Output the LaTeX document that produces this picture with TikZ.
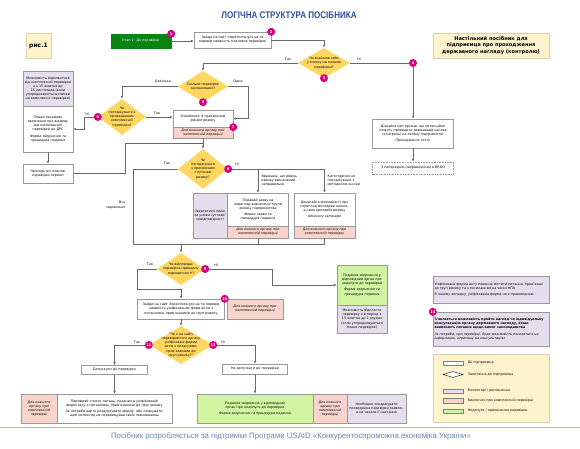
\documentclass[tikz,border=0pt]{standalone}
\usepackage{fontspec}
\setmainfont{DejaVu Sans}
\newfontfamily\narrowfont{Liberation Sans}[FakeStretch=0.84]
\newfontfamily\footfont{Liberation Sans}
\usepackage{tikz}
\usetikzlibrary{positioning,shapes.geometric,arrows.meta}

\definecolor{qyellow}{RGB}{255,214,96}
\definecolor{notepurple}{RGB}{229,223,237}
\definecolor{cplxpink}{RGB}{248,212,204}
\definecolor{stopgreen}{RGB}{208,244,160}
\definecolor{paleyellow}{RGB}{255,243,205}
\definecolor{stagegreen}{RGB}{10,130,20}
\definecolor{nummag}{RGB}{214,0,124}
\definecolor{titleblue}{RGB}{42,82,152}
\definecolor{footblue}{RGB}{104,134,178}
\definecolor{linegray}{RGB}{105,105,105}
\newcommand{\tx}{\fontsize{3.3}{4.1}\selectfont}

\begin{document}
\begin{tikzpicture}[x=1pt,y=-1pt,>={Latex[length=3pt,width=2.6pt]},
	box/.style n args={2}{draw=gray!80,minimum width=#1pt,minimum height=#2pt,
		text width=#1pt-3pt,inner xsep=1.5pt,inner ysep=0.5pt,align=center,font=\tx},
	act/.style={fill=white},
	note/.style={fill=notepurple},
	cplx/.style={fill=cplxpink,font=\tx\itshape},
	stop/.style={fill=stopgreen},
	quest/.style n args={2}{diamond,fill=qyellow,minimum width=#1pt,minimum height=#2pt,inner sep=0pt},
	qtext/.style={font=\tx,align=center,inner sep=0pt},
	num/.style={circle,fill=nummag,text=white,inner sep=0pt,minimum size=8pt,font=\fontsize{3.6}{4}\selectfont\bfseries},
	lbl/.style={font=\tx,inner sep=0.5pt},
	link/.style={draw=linegray,line width=0.6pt}]
	
	\path[use as bounding box,fill=white] (0,0) rectangle (580,449);
	
	% headers
	\node[font=\narrowfont\fontsize{9.6}{11}\selectfont\bfseries,text=titleblue] (title) at (289,15) {ЛОГІЧНА СТРУКТУРА ПОСІБНИКА};
	\node[box={25}{25},fill=paleyellow,draw=paleyellow!85!black,font=\fontsize{6}{7}\selectfont\bfseries] (fig) at (38.5,45.5) {рис.1};
	\node[box={116}{25},fill=paleyellow,draw=paleyellow!85!black,font=\fontsize{5.1}{6.3}\selectfont\bfseries] (head) at (491,45.5) {Настільний посібник для\\підприємця про проходження\\державного нагляду (контролю)};
	
	% top part
	\node[box={60}{14},fill=stagegreen,draw=stagegreen,text=white] (st1) at (141,41) {Етап 1: До перевірки};
	\node[box={77}{16},act] (b2) at (232.5,40) {Зайди на сайт inspections.gov.ua та\\перевір наявність планових перевірок};
	\node[quest={52}{30},label={[qtext]center:{Чи знайшов себе\\у списку на планові\\перевірки?}}] (q3) at (324,63) {};
	\node[num] (c4) at (413,63) {4};
	\node[box={81}{29},act] (b4) at (413,133.5) {Дізнайся про органи, що потенційно можуть проводити державний нагляд (контроль) на твоєму підприємстві\\[2pt]\textit{Проходження тесту}};
	\node[box={81}{12},act,dash pattern=on 0.8pt off 0.8pt] (brdo) at (413,168) {З попереднім направленням в BRDO};
	\node[quest={50}{31},label={[qtext]center:{Скільки перевірок\\заплановано?}}] (q5) at (203,86.5) {};
	\node[quest={48}{36},label={[qtext]center:{Чи\\погоджуєшся з\\проведенням\\комплексної\\перевірки?}}] (q6) at (122,117) {};
	\node[box={60}{17},act] (b7) at (203,118.5) {Ознайомся із присвоєним рівнем ризику};
	\node[box={60}{11},cplx] (b7p) at (203,132.5) {Для кожного органу при комплексній перевірці};
	
	% left column
	\node[box={50}{35},note] (n1) at (48,88.5) {Можливість відмовитися від комплексної перевірки є з 15 жовтня до 15 листопада (коли упорядковуються списки на комплексні перевірки)};
	\node[box={50}{46},act] (n2) at (48,129) {Подай письмове звернення про відмову від комплексної перевірки до ДРС\\[2pt]\textit{Форма звернення та процедура подання}};
	\node[box={50}{19},act] (n3) at (48,173.5) {Проходь всі планові перевірки окремо};
	
	% risk level
	\node[quest={50}{40},label={[qtext]center:{Чи\\погоджуєшся\\з присвоєним\\ступенем\\ризику?}}] (q8) at (203,169) {};
	\node[box={34}{45},note,font=\tx\itshape] (m1) at (210,215.5) {Звертатися лише за умови суттєвої невідповідності};
	\node[box={61}{33},act] (w1) at (258,209.5) {Подавай заяву на перегляд визначеної групи ризику підприємства\\[2pt]\textit{Форма заяви та процедура подання}};
	\node[box={61}{12},cplx] (w1p) at (258,232) {Для кожного органу при комплексній перевірці};
	\node[box={61}{33},act] (w2) at (324.5,209.5) {Домагайся можливості про перегляд методики оцінки, а саме критеріїв ризику\\[2pt]\textit{Advocacy campaign}};
	\node[box={61}{12},cplx] (w2p) at (324.5,232) {Для кожного органу при комплексній перевірці};
	\node[lbl,anchor=north west,align=left] (why1) at (261,174) {Вважаєш, що рівень\\ризику визначений\\неправильно};
	\node[lbl,anchor=north west,align=left] (why2) at (327,174) {Категорично не\\погоджуєшся з\\методикою оцінки};
	\node[lbl,anchor=east,align=right] (allok) at (126,205) {Все\\задовільно};
	
	% periodicity
	\node[quest={48}{32},label={[qtext]center:{Чи відповідає\\перевірка принципу\\періодичності?}}] (q9) at (181,269) {};
	\node[box={50}{40},stop] (g1) at (362,285) {Подання звернення у відповідний орган про недопуск до перевірки\\[2pt]\textit{Форма звернення та процедура подання}};
	\node[box={50}{28},note] (g2) at (362,319) {Можливість відкласти перевірку є в період з 15 жовтня до 1 грудня (коли упорядковуються плани перевірок)};
	\node[box={87}{20},act] (b10) at (181,309) {Зайди на сайт inspections.gov.ua та перевір наявність уніфікованих форм актів з питаннями, прив'язаними до груп ризику};
	\node[box={56}{20},cplx] (b10p) at (255,309) {Для кожного органу при комплексній перевірці};
	
	% admission
	\node[quest={64}{38},label={[qtext]center:{"Чи є на сайті\\перевіряючого органу\\уніфіковані форми\\актів з питаннями,\\прив'язаними до\\груп ризику?"}}] (q11) at (181,345) {};
	\node[box={66}{9},act] (d1) at (114.5,370) {Допускати до перевірки};
	\node[box={36}{29},cplx] (e1p) at (39,408.5) {Для кожного органу при комплексній перевірці};
	\node[box={115}{29},act] (e1) at (114.5,408.5) {Перевіряй список питань, поданих в уніфікованій формі акту з питаннями, прив'язаними до груп ризику\\[2pt]\textit{За потреби варто роздрукувати форму, або слідкувати, щоб інспектор не перевищував своїх повноважень}};
	\node[box={65}{10},act] (d2) at (255,369) {Не допускати до перевірки};
	\node[box={116}{29},stop] (f1) at (255,408.5) {Подання звернення у відповідний орган про недопуск до перевірки\\[2pt]\textit{Форма звернення та процедура подання}};
	\node[box={34}{29},cplx] (f1p) at (330,408.5) {Для кожного органу при комплексній перевірці};
	\node[box={59}{29},note] (f1n) at (376.5,408.5) {Необхідно оскаржувати проведення перевірки заявою, а не чекати її настання};
	
	% right notes
	\node[box={116}{27},note,align=left] (r1) at (491,289.5) {Уніфікована форма акту повинна містити питання, прив'язані до груп ризику та з посиланням на чинні НПА\\[2pt]В іншому випадку, уніфікована форма не є правомірною};
	\node[box={116}{34},note,align=left] (r2) at (491,329) {\textbf{З'являється можливість пройти нагляд чи індивідуальну консультацію органу державного нагляду, якщо виникають питання щодо вимог законодавства}\\[2pt]\textit{За потреби, при перевірці, буде можливість посилатися на інформацію, отриману на консультаціях}};
	
	% legend
	\node[box={116}{68},fill=paleyellow,draw=paleyellow!85!black] (lg) at (491,388) {};
	\node[draw=gray,fill=white,minimum width=20pt,minimum height=4.5pt,inner sep=0pt] (k1) at (453,363) {};
	\node[diamond,draw=black,fill=white,minimum width=20pt,minimum height=6pt,inner sep=0pt] (k2) at (453,374.5) {};
	\node[draw=gray,fill=notepurple,minimum width=20pt,minimum height=4.5pt,inner sep=0pt] (k3) at (453,391) {};
	\node[draw=gray,fill=cplxpink,minimum width=20pt,minimum height=4.5pt,inner sep=0pt] (k4) at (453,400.5) {};
	\node[draw=gray,fill=stopgreen,minimum width=20pt,minimum height=4.5pt,inner sep=0pt] (k5) at (453,411) {};
	\node[lbl,right=4pt of k1] (k1t) {Дії підприємця};
	\node[lbl,right=4pt of k2] (k2t) {Запитання до підприємця};
	\node[lbl,right=4pt of k3] (k3t) {Коментарі / доповнення};
	\node[lbl,right=4pt of k4] (k4t) {Виключно при комплексній перевірці};
	\node[lbl,right=4pt of k5] (k5t) {Недопуск / припинення перевірки};
	
	% numbers
	\node[num] (c1) at (st1.north east) {1};
	\node[num] (c2) at (b2.north east) {2};
	\node[num] (c3) at (q3.south) {3};
	\node[num] (c5) at (q5.south) {5};
	\node[num] (c6) at (q6.west) {6};
	\node[num] (c7) at (b7.south east) {7};
	\node[num] (c8) at (q8.east) {8};
	\node[num] (c9) at (q9.east) {9};
	\node[num] (c10) at (b10.north east) {10};
	\node[num] (c11) at (q11.west) {11};
	\node[num] (c12) at (q11.east) {12};
	\node[num] (c13) at (r2.north west) {13};
	
	% branch labels
	\node[lbl] (l3y) at (288,59) {Так};
	\node[lbl] (l3n) at (359,59) {Ні};
	\node[lbl] (l5a) at (163,82) {Декілька};
	\node[lbl] (l5b) at (238,82) {Одна};
	\node[lbl] (l6y) at (157,113) {Так};
	\node[lbl] (l6n) at (87,114) {Ні};
	\node[lbl] (l8y) at (167,163) {Так};
	\node[lbl] (l8n) at (237,164) {Ні};
	\node[lbl] (l9y) at (150,264) {Так};
	\node[lbl] (l9n) at (216,265) {Ні};
	\node[lbl] (l11y) at (137,342) {Так};
	\node[lbl] (l11n) at (223,342) {Ні};
	
	\coordinate (j1) at (203,143);
	\coordinate (j2) at (324.5,244);
	
	% connectors
	\draw[link,->] (st1.east) -- (st1.east -| b2.west);
	\draw[link,->] (b2.east) -| (q3.north);
	\draw[link,->] (q3.west) -| (q5.north);
	\draw[link] (q3.east) -- (c4);
	\draw[link,->] (c4) -- (b4);
	\draw[link,->] (b4) -- (brdo);
	\draw[link,->] (q5.west) -| (q6.north);
	\draw[link,->] (q5.east) -- ++(20,0) |- (b7.east);
	\draw[link,->] (q6.east) -- (q6.east -| b7.west);
	\draw[link,->] (c6.west) -- ++(-9,0) |- (n2.east);
	\draw[link,->] (n2) -- (n3);
	\draw[link] (n3.east) -- ++(52,0) |- (j1);
	\draw[link,->] (b7p) -- (q8);
	\draw[link] (q8.west) -- ++(-45,0) |- (j2);
	\draw[link,->] (c8.east) -| (w2.north);
	\draw[link,->] (w1.north |- c8.east) -- (w1);
	\draw[link] (w1p.south) -- (w1p.south |- j2);
	\draw[link] (w2p.south) -- (j2);
	\draw[link,->] (q9.north |- j2) -- (q9);
	\draw[link,->] (q9.west) -- ++(-20,0) -- ++(0,20) -| (b10.north);
	\draw[link,->] (c9.east) -- ++(63,0) |- (g1.west);
	\draw[link,->] (b10) -- (q11);
	\draw[link,->] (c11.west) -| (d1.north);
	\draw[link,->] (d1) -- (e1);
	\draw[link,->] (c12.east) -| (d2.north);
	\draw[link,->] (d2) -- (f1);
	
	% footer
	\draw[footblue!60,line width=0.8pt] (0,427) -- (580,427);
	\node[font=\footfont\fontsize{7.8}{9}\selectfont,text=footblue] (foot) at (291,436) {Посібник розробляється за підтримки Програми USAID «Конкурентоспроможна економіка України»};
	
\end{tikzpicture}
\end{document}
